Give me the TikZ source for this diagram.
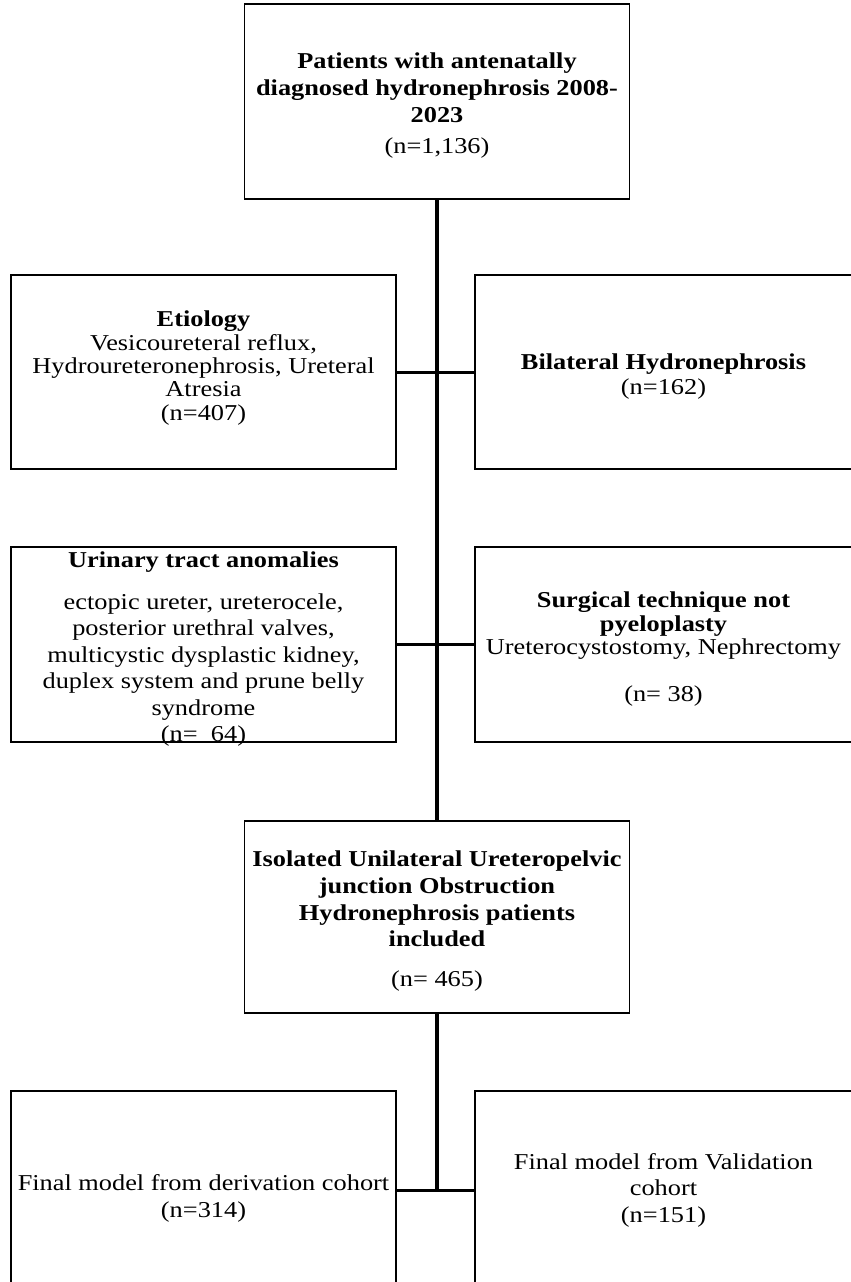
\documentclass[tikz,border=0pt]{standalone}
\usepackage{fontspec}
\setmainfont{Liberation Serif}[FakeStretch=1.16]
\newcommand{\topstrut}[1]{\rule{0pt}{#1}}
\newcommand{\botstrut}[1]{\rule[-#1]{0pt}{1pt}}
\begin{document}
\begin{tikzpicture}[x=1pt,y=-1pt,
  box/.style={draw=black, line width=1.8pt, rectangle, inner sep=0pt, align=center},
  lbox/.style={box, minimum width=385pt},
  rbox/.style={box, minimum width=377pt},
  trunk/.style={draw=black, line width=4.5pt},
  branch/.style={draw=black, line width=3pt}]
\clip (0,0) rectangle (851,1282);
\fill[white] (0,0) rectangle (851,1282);

\node[box, minimum width=385pt, minimum height=195pt, font=\fontsize{22.7}{27.2}\selectfont] (top) at (437,101.5)
  {\topstrut{23.5pt}\textbf{Patients with antenatally}\\ \textbf{diagnosed hydronephrosis 2008-}\\ \textbf{2023}\\[3.8pt] (n=1,136)};

\node[lbox, minimum height=194pt, font=\fontsize{22.7}{23.3}\selectfont] (etio) at (203.5,372)
  {\textbf{Etiology}\\ Vesicoureteral reflux,\\ Hydroureteronephrosis, Ureteral\\ Atresia\\ (n=407)\botstrut{12.9pt}};

\node[rbox, minimum height=194pt, font=\fontsize{22.7}{25}\selectfont] (bilat) at (663.5,372)
  {\topstrut{25.5pt}\textbf{Bilateral Hydronephrosis}\\ (n=162)};

\node[lbox, minimum height=195pt, font=\fontsize{22.7}{26.4}\selectfont] (uti) at (203.5,644.5)
  {\topstrut{20pt}\textbf{Urinary tract anomalies}\\[15.6pt] ectopic ureter, ureterocele,\\ posterior urethral valves,\\ multicystic dysplastic kidney,\\ duplex system and prune belly\\ syndrome\\ \smash{(n=\ \ 64)}};

\node[rbox, minimum height=195pt, font=\fontsize{22.7}{23.5}\selectfont] (surg) at (663.5,644.5)
  {\topstrut{25.5pt}\textbf{Surgical technique not}\\ \textbf{pyeloplasty}\\ Ureterocystostomy, Nephrectomy\\[23.5pt] (n=\ 38)};

\node[box, minimum width=385pt, minimum height=192pt, font=\fontsize{22.7}{26.7}\selectfont] (iso) at (437,917)
  {\topstrut{24.5pt}\textbf{Isolated Unilateral Ureteropelvic}\\ \textbf{junction Obstruction}\\ \textbf{Hydronephrosis patients}\\ \textbf{included}\\[13.3pt] (n=\ 465)};

\node[lbox, minimum height=198pt, font=\fontsize{22.7}{27}\selectfont] (finL) at (203.5,1190)
  {\topstrut{33.5pt}Final model from derivation cohort\\ (n=314)};

\node[rbox, minimum height=198pt, font=\fontsize{22.7}{26.5}\selectfont] (finR) at (663.5,1190)
  {Final model from Validation\\ cohort\\ (n=151)};

\coordinate (jf) at (iso.south |- finL.east);
\draw[trunk] (top.south) -- (iso.north);
\draw[trunk, shorten >=-1.5pt] (iso.south) -- (jf);
\draw[branch] (etio.east) -- (bilat.west);
\draw[branch] (uti.east) -- (surg.west);
\draw[branch] (finL.east) -- (finR.west);
\end{tikzpicture}
\end{document}
